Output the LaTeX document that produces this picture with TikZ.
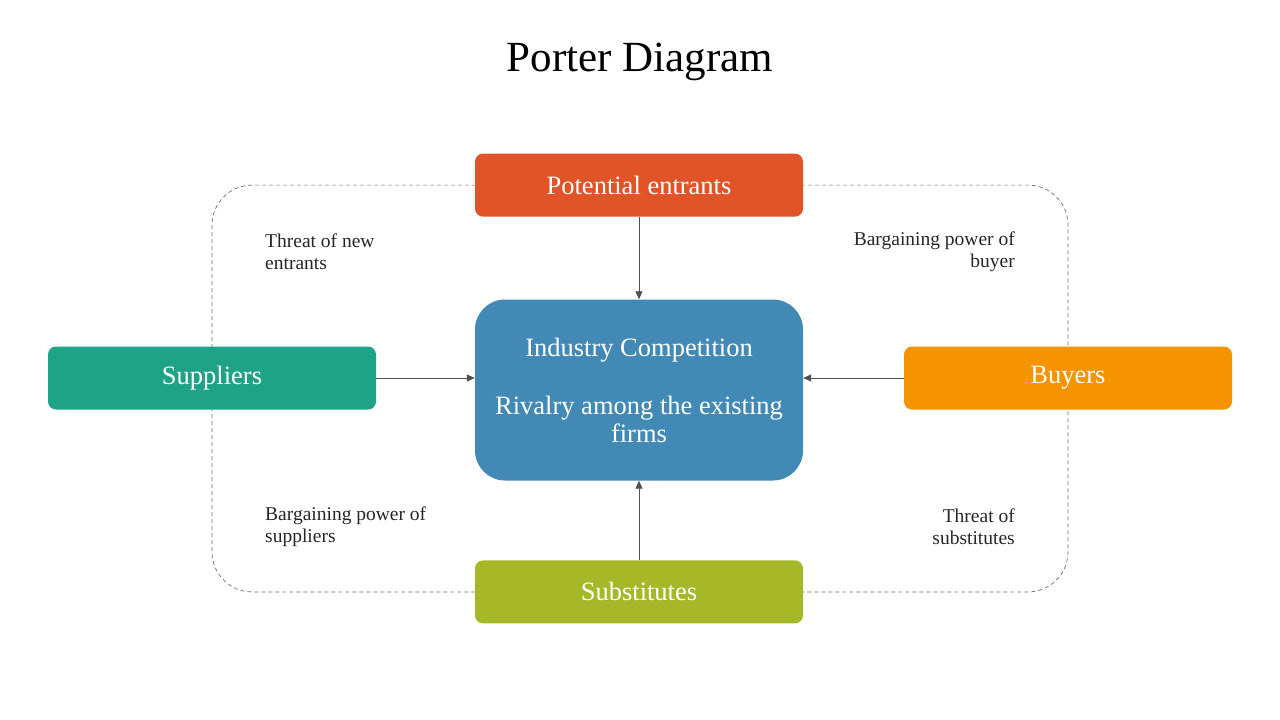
\documentclass[tikz,border=0pt]{standalone}
\usepackage{fontspec}
\setmainfont{Liberation Serif}
\usetikzlibrary{arrows.meta,positioning,backgrounds}
\definecolor{entrantred}{HTML}{E05427}
\definecolor{coreblue}{HTML}{4289B5}
\definecolor{supplierteal}{HTML}{1FA386}
\definecolor{buyerorange}{HTML}{F59300}
\definecolor{substolive}{HTML}{A6B828}
\definecolor{linkgray}{HTML}{505050}
\definecolor{framegray}{HTML}{6E6E6E}

\begin{document}
\begin{tikzpicture}[x=1pt,y=-1pt,
      force/.style={rectangle, rounded corners=8pt, minimum width=328pt,
        minimum height=63pt, text=white, font=\fontsize{26.5}{28}\selectfont},
      note/.style={inner sep=0pt, text=black!85, font=\fontsize{19.5}{22}\selectfont},
      link/.style={draw=linkgray, line width=0.8pt, -{Triangle[length=8pt,width=7pt]}}]
    \useasboundingbox (0,0) rectangle (1280,720);
    \node (title) at (640,62) {\fontsize{43}{48}\selectfont Porter Diagram};
    % the five forces
    \node[force, fill=coreblue, rounded corners=30pt, minimum height=181pt, align=center]
      (core) at (639,390) {Industry Competition\\[30pt]Rivalry among the existing\\firms};
    \node[force, fill=entrantred, above=82.5pt of core] (entrants) {Potential entrants};
    \node[force, fill=substolive, below=79.5pt of core] (subst) {Substitutes};
    \node[force, fill=supplierteal] (suppliers) at (212,378) {Suppliers};
    \node[force, fill=buyerorange] (buyers) at (1068,378) {Buyers};
    \begin{scope}[on background layer]
      \draw[framegray, line width=0.7pt, dash pattern=on 4pt off 3pt, rounded corners=40pt]
        (entrants.center -| suppliers.center) rectangle (subst.center -| buyers.center);
    \end{scope}
    % arrows into the core
    \draw[link] (entrants) -- (core);
    \draw[link] (suppliers.east) -- (suppliers.east -| core.west);
    \draw[link] (buyers.west) -- (buyers.west -| core.east);
    \draw[link] (subst) -- (core);
    % labels
    \node[note, anchor=west, align=left] (newent) at (265,252) {Threat of new\\entrants};
    \node[note, anchor=east, align=right] (buyerpow) at (1015,252) {Bargaining power of\\buyer};
    \node[note, anchor=west, align=left] (supppow) at (265,527) {Bargaining power of\\suppliers};
    \node[note, anchor=east, align=right] (substthr) at (1015,527) {Threat of\\substitutes};
\end{tikzpicture}
\end{document}
